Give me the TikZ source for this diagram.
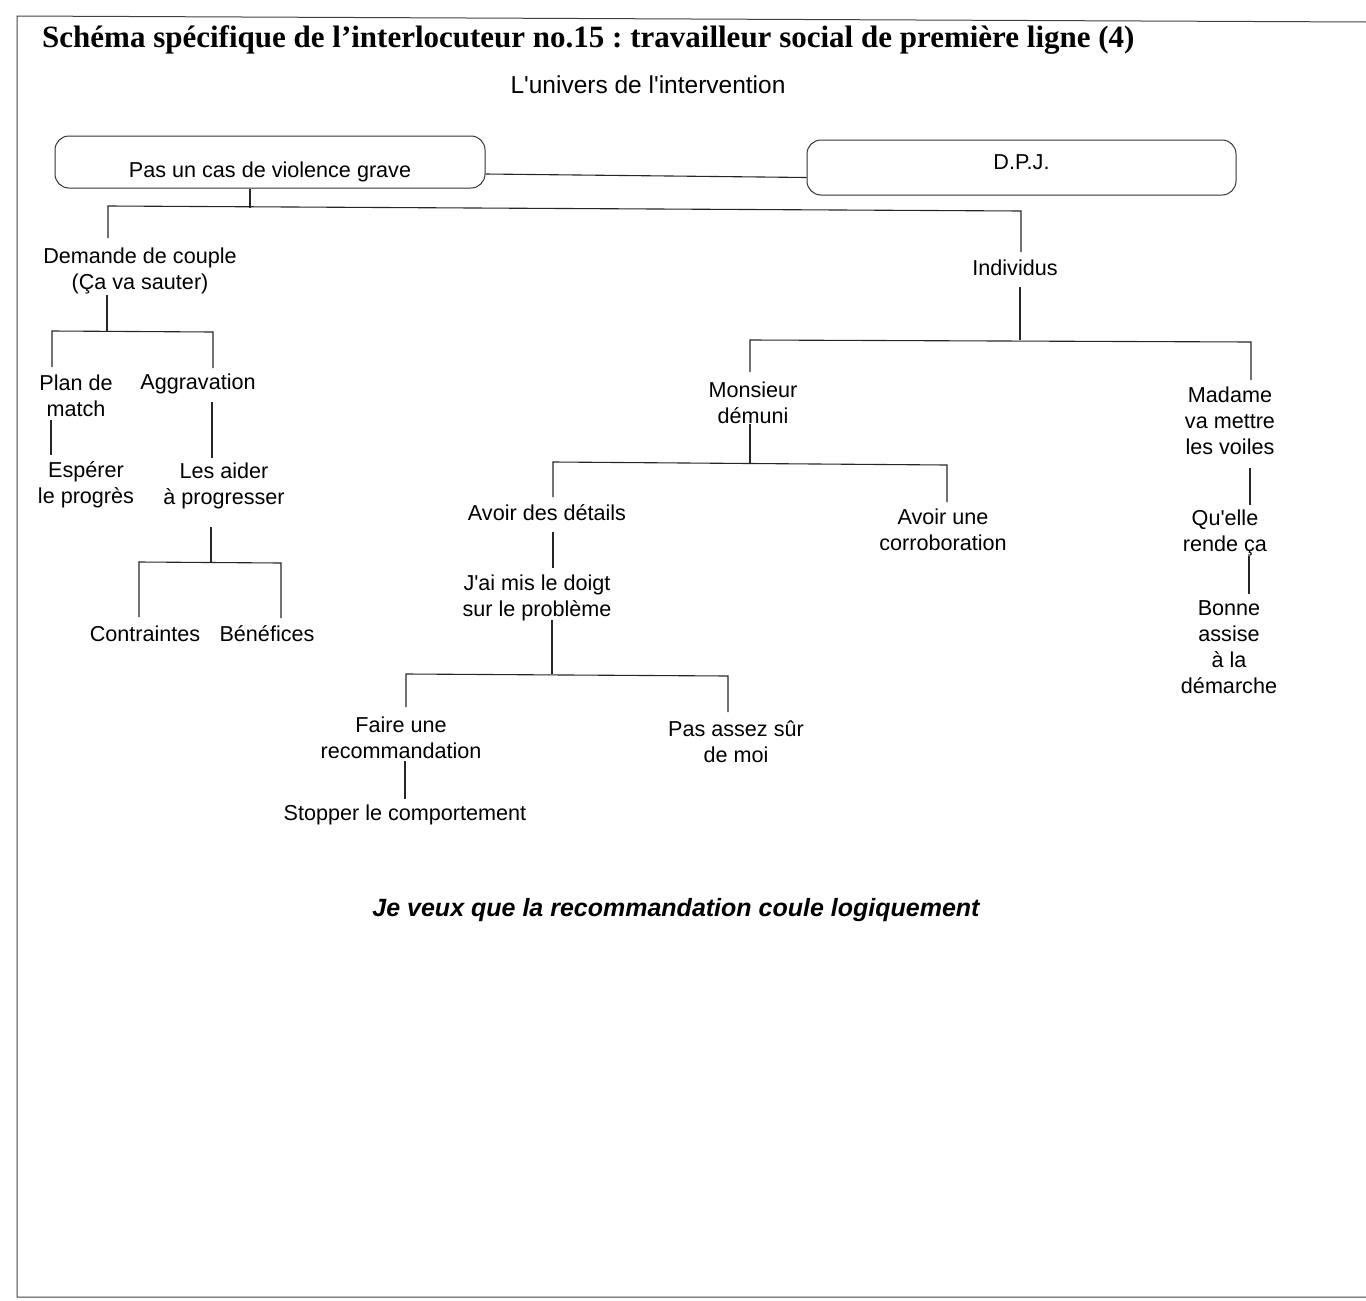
\documentclass[tikz,border=0pt]{standalone}
\usepackage{fontspec}
\setmainfont{Liberation Sans}
\newfontfamily\titlefont{Liberation Serif}
\newcommand\apos{\textquotesingle}
\frenchspacing
\begin{document}
\begin{tikzpicture}[x=1pt,y=-1pt,
  lbl/.style={font=\fontsize{21.6}{26}\selectfont, align=center, inner sep=0pt},
  conn/.style={line width=1.1pt, draw=black!85},
  rbox/.style={draw=black!80, line width=1pt, rounded corners=14pt, inner sep=0pt,
    font=\fontsize{21.6}{26}\selectfont},
  frame/.style={line width=1pt, draw=black!75}]
\useasboundingbox (0,0) rectangle (1366,1301);

% page frame
\draw[frame] (1366,22) -- (17,16) -- (17,1297) -- (1366,1297);

% headings
\node[anchor=base west, inner sep=0pt, font=\titlefont\bfseries\fontsize{31}{34}\selectfont] (title) at (42,47)
  {Schéma spécifique de l’interlocuteur no.15 : travailleur social de première ligne (4)};
\node[lbl, font=\fontsize{24.5}{28}\selectfont] (sub) at (648,85) {L\apos univers de l\apos intervention};

% top boxes
\node[rbox, minimum width=430pt, minimum height=52pt] (b1) at (270,162)
  {\raisebox{-15pt}[0pt][0pt]{Pas un cas de violence grave}};
\node[rbox, minimum width=429pt, minimum height=55pt] (b2) at (1021.5,167.5)
  {\raisebox{-2pt}[0pt][0pt]{D.P.J.}};
\draw[conn] ([yshift=-12pt]b1.east) -- ([yshift=-10pt]b2.west);

% tree labels
\node[lbl] (dem) at (140,271) {Demande de couple\\(Ça va sauter)};
\node[lbl] (plan) at (76,395.5) {Plan de\\match};
\node[lbl] (aggr) at (198,384) {Aggravation};
\node[lbl] (esp) at (86,485) {Espérer\\le progrès};
\node[lbl] (aider) at (224,486) {Les aider\\à progresser};
\node[lbl] (contr) at (145,634) {Contraintes};
\node[lbl] (benef) at (267,634) {Bénéfices};

\node[lbl] (indiv) at (1015,268) {Individus};
\node[lbl] (mons) at (753,402.5) {Monsieur\\démuni};
\node[lbl] (det) at (547,513) {Avoir des détails};
\node[lbl] (corr) at (943,530) {Avoir une\\corroboration};
\node[lbl] (doigt) at (537,597.5) {J\apos ai mis le doigt\\sur le problème};
\node[lbl] (faire) at (401,738) {Faire une\\recommandation};
\node[lbl] (passur) at (736,742) {Pas assez sûr\\de moi};
\node[lbl] (stop) at (405,815) {Stopper le comportement};

\node[lbl] (madame) at (1230,420.5) {Madame\\va mettre\\les voiles};
\node[lbl] (quelle) at (1225,533) {Qu\apos elle\\rende ça};
\node[lbl] (bonne) at (1229,647.5) {Bonne\\assise\\à la\\démarche};

\node[lbl, font=\bfseries\itshape\fontsize{25}{28}\selectfont] (concl) at (676,910)
  {Je veux que la recommandation coule logiquement};

% joints of the tree
\coordinate (k0) at (250,189); \coordinate (k1) at (250,208);
\coordinate (k2) at (108,206); \coordinate (k3) at (1021,211);
\coordinate (k4) at (108,238); \coordinate (k5) at (1021,252);

\coordinate (d0) at (107,295); \coordinate (d1) at (107,331);
\coordinate (d2) at (52,331);  \coordinate (d3) at (213,332);
\coordinate (d4) at (52,367);  \coordinate (d5) at (213,368);

\coordinate (p0) at (51,420);  \coordinate (p1) at (51,455);
\coordinate (g0) at (212,402); \coordinate (g1) at (212,458);

\coordinate (l0) at (211,527); \coordinate (l1) at (211,562);
\coordinate (l2) at (139,562); \coordinate (l3) at (281,563);
\coordinate (l4) at (139,617); \coordinate (l5) at (281,618);

\coordinate (i0) at (1020,287); \coordinate (i1) at (1020,340);
\coordinate (i2) at (750,340);  \coordinate (i3) at (1251,342);
\coordinate (i4) at (750,372);  \coordinate (i5) at (1251,380);

\coordinate (m0) at (750,424); \coordinate (m1) at (750,463);
\coordinate (m2) at (553,462); \coordinate (m3) at (947,465);
\coordinate (m4) at (553,497); \coordinate (m5) at (947,502);

\coordinate (a0) at (553,532); \coordinate (a1) at (553,568);

\coordinate (j0) at (552,620); \coordinate (j1) at (552,674);
\coordinate (j2) at (406,674); \coordinate (j3) at (728,676);
\coordinate (j4) at (406,707); \coordinate (j5) at (728,712);

\coordinate (f0) at (405,761); \coordinate (f1) at (405,799);

\coordinate (w0) at (1250,468); \coordinate (w1) at (1250,505);
\coordinate (w2) at (1249,556); \coordinate (w3) at (1249,594);

% connectors
\draw[conn] (k0) -- (k1);
\draw[conn] (k4) -- (k2) -- (k3) -- (k5);

\draw[conn] (d0) -- (d1);
\draw[conn] (d4) -- (d2) -- (d3) -- (d5);
\draw[conn] (p0) -- (p1);
\draw[conn] (g0) -- (g1);
\draw[conn] (l0) -- (l1);
\draw[conn] (l4) -- (l2) -- (l3) -- (l5);

\draw[conn] (i0) -- (i1);
\draw[conn] (i4) -- (i2) -- (i3) -- (i5);
\draw[conn] (m0) -- (m1);
\draw[conn] (m4) -- (m2) -- (m3) -- (m5);
\draw[conn] (a0) -- (a1);
\draw[conn] (j0) -- (j1);
\draw[conn] (j4) -- (j2) -- (j3) -- (j5);
\draw[conn] (f0) -- (f1);

\draw[conn] (w0) -- (w1);
\draw[conn] (w2) -- (w3);
\end{tikzpicture}
\end{document}
